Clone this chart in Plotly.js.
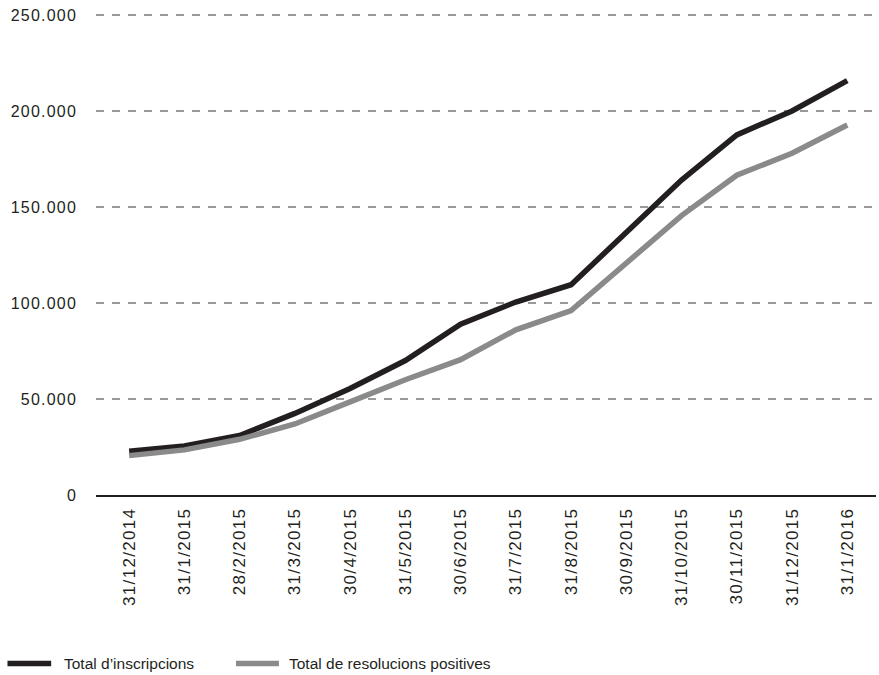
<!DOCTYPE html>
<html>
<head>
<meta charset="utf-8">
<script src="https://cdn.plot.ly/plotly-3.0.1.min.js"></script>
<style>
  html, body { margin: 0; padding: 0; background: #ffffff; }
  #chart { width: 879px; height: 675px; }
  /* slightly open tracking on the tick labels */
  #chart .xtick text { letter-spacing: 1.3px; }
  #chart .ytick text { letter-spacing: 1.2px; }
</style>
</head>
<body>
<div id="chart"></div>
<script>
// Month-end dates
const dates = [
  "31/12/2014", "31/1/2015", "28/2/2015", "31/3/2015", "30/4/2015",
  "31/5/2015", "30/6/2015", "31/7/2015", "31/8/2015", "30/9/2015",
  "31/10/2015", "30/11/2015", "31/12/2015", "31/1/2016"
];

// Cumulative registrations
const inscripcions = [
  22800, 25500, 31000, 42500, 55500, 70000, 89000,
  100500, 109500, 137000, 164000, 187500, 200000, 215800
];

// Cumulative positive resolutions
const resolucions = [
  20500, 23500, 29000, 37000, 48500, 60000, 70500,
  86000, 96000, 120500, 145500, 166500, 178000, 192700
];

const seriesNames = ["Total d\u2019inscripcions", "Total de resolucions positives"];
const seriesColors = ["#231f20", "#8a8a8a"];
const yTicks = [0, 50000, 100000, 150000, 200000, 250000];

const traces = [
  {
    x: dates, y: inscripcions, name: seriesNames[0], type: "scatter", mode: "lines",
    line: { color: seriesColors[0], width: 5.5 }, showlegend: false
  },
  {
    x: dates, y: resolucions, name: seriesNames[1], type: "scatter", mode: "lines",
    line: { color: seriesColors[1], width: 5.5 }, showlegend: false
  }
];

// Legend below the plot: a short thick line followed by the label (paper units)
const legendLineX = [[-0.1135, -0.0575], [0.1795, 0.2345]];
const legendTextX = [-0.0430, 0.2450];
const legendY = -0.3495;
const shapes = [];
const annotations = [];
seriesNames.forEach((name, i) => {
  shapes.push({
    type: "line", xref: "paper", yref: "paper",
    x0: legendLineX[i][0], x1: legendLineX[i][1],
    y0: legendY, y1: legendY,
    line: { color: seriesColors[i], width: 5.5 }
  });
  annotations.push({
    xref: "paper", yref: "paper",
    x: legendTextX[i], y: legendY,
    xanchor: "left", yanchor: "middle",
    text: name, showarrow: false,
    font: { family: "Liberation Sans, Arial, sans-serif", size: 15.5, color: "#231f20" }
  });
});

const layout = {
  width: 879, height: 675,
  margin: { l: 96, r: 3, t: 13, b: 180 },
  paper_bgcolor: "#ffffff", plot_bgcolor: "#ffffff",
  separators: ",.",
  font: { family: "Liberation Sans, Arial, sans-serif", size: 15, color: "#231f20" },
  showlegend: false,
  xaxis: {
    type: "category",
    range: [-0.6, 13.52],
    tickangle: -90,
    showgrid: false,
    showline: true, linecolor: "#231f20", linewidth: 2,
    ticks: "", ticklabelstandoff: 4,
    zeroline: false, fixedrange: true,
    tickfont: { size: 17, color: "#231f20" }
  },
  yaxis: {
    range: [0, 251000],
    tickmode: "array", tickvals: yTicks,
    tickformat: ",d",
    showgrid: true, gridcolor: "#999999", gridwidth: 1.3, griddash: "8px,8px",
    zeroline: false, showline: false,
    ticks: "", ticklabelstandoff: 18,
    fixedrange: true,
    tickfont: { size: 16, color: "#231f20" }
  },
  shapes: shapes,
  annotations: annotations
};

Plotly.newPlot("chart", traces, layout, { displayModeBar: false, staticPlot: true });
</script>
</body>
</html>
